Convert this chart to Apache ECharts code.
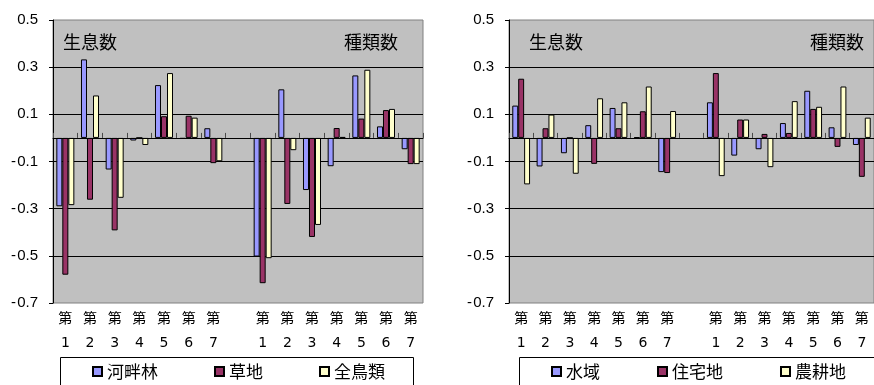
<!DOCTYPE html>
<html>
<head>
<meta charset="utf-8">
<script src="https://cdn.jsdelivr.net/npm/echarts@6.0.0/dist/echarts.min.js"></script>
<style>
html,body{margin:0;padding:0;background:#fff;}
#main{width:874px;height:385px;}
</style>
</head>
<body>
<div id="main"></div>
<script>
// Categories (empty slot separates the two groups)
var categories = ['第1','第2','第3','第4','第5','第6','第7','','第1','第2','第3','第4','第5','第6','第7'];
var yTicks = [-0.7, -0.5, -0.3, -0.1, 0.1, 0.3, 0.5];

// Left panel
var riparian    = [-0.29, 0.333, -0.134, -0.011, 0.224, -0.004, 0.041, null, -0.503, 0.206, -0.221, -0.12, 0.265, 0.049, -0.048];
var grassland   = [-0.58, -0.262, -0.392, 0, 0.092, 0.094, -0.107, null, -0.616, -0.28, -0.42, 0.042, 0.082, 0.118, -0.111];
var allBirds    = [-0.285, 0.18, -0.254, -0.03, 0.275, 0.086, -0.099, null, -0.51, -0.052, -0.369, 0.004, 0.289, 0.123, -0.111];

// Right panel
var water       = [0.137, -0.121, -0.065, 0.054, 0.127, 0.003, -0.145, null, 0.151, -0.075, -0.048, 0.063, 0.2, 0.045, -0.03];
var residential = [0.251, 0.041, 0, -0.11, 0.041, 0.113, -0.149, null, 0.275, 0.078, 0.017, 0.021, 0.123, -0.038, -0.165];
var farmland    = [-0.197, 0.099, -0.152, 0.168, 0.151, 0.218, 0.114, null, -0.162, 0.078, -0.124, 0.156, 0.132, 0.218, 0.086];

var leftNames = ['河畔林', '草地', '全鳥類'];
var rightNames = ['水域', '住宅地', '農耕地'];
var panelLabels = ['生息数', '種類数'];

var colors = ['#9999FF', '#993366', '#FFFFCC'];
var latin = '"Liberation Sans", Arial, sans-serif';
var cjk = '"Noto Sans CJK JP", sans-serif';

function yAxisDef(gi) {
  return {
    type: 'value', gridIndex: gi, min: -0.7, max: 0.5,
    axisLine: { show: true, lineStyle: { color: '#000', width: 1 } },
    axisTick: { show: true, length: 4, lineStyle: { color: '#000' }, customValues: yTicks },
    axisLabel: {
      customValues: yTicks, margin: 15, color: '#000', fontSize: 15, fontFamily: latin,
      formatter: function (v) { return v < 0 ? '-\u200A' + Math.abs(v).toFixed(1) : v.toFixed(1); }
    },
    splitLine: { show: true, showMinLine: false, showMaxLine: false, lineStyle: { color: '#000', width: 1 } }
  };
}
// label axis: part 0 = "第", part 1 = the number
function xLabelAxis(gi, part, margin, family) {
  return {
    type: 'category', gridIndex: gi, data: categories, position: 'bottom',
    axisLine: { show: false, onZero: false },
    axisTick: { show: false },
    axisLabel: {
      interval: 0, margin: margin, color: '#000', fontSize: 14, fontFamily: family,
      formatter: function (v) { return v ? (part === 0 ? v.charAt(0) : v.slice(1)) : ''; }
    },
    splitLine: { show: false }
  };
}
function xZeroAxis(gi) {
  return {
    type: 'category', gridIndex: gi, data: categories, position: 'bottom',
    axisLine: { show: true, onZero: true, lineStyle: { color: '#000', width: 1 } },
    axisTick: { show: true, inside: true, length: 5, interval: 0, lineStyle: { color: '#4a4a4a', width: 1 } },
    axisLabel: { show: false },
    splitLine: { show: false },
    z: 5
  };
}
function barSeries(name, data, xi, yi, color) {
  return {
    type: 'bar', name: name, data: data, xAxisIndex: xi, yAxisIndex: yi,
    barGap: '0%', barCategoryGap: '27%',
    itemStyle: { color: color, borderColor: '#000', borderWidth: 1 },
    emphasis: { disabled: true }, animation: false
  };
}

var option = {
  animation: false,
  grid: [
    { left: 53, top: 20, width: 370, height: 283, show: true, backgroundColor: '#C0C0C0', borderColor: '#808080', borderWidth: 1 },
    { left: 509, top: 20, width: 370, height: 283, show: true, backgroundColor: '#C0C0C0', borderColor: '#808080', borderWidth: 1 }
  ],
  xAxis: [
    xLabelAxis(0, 0, 8, cjk), xZeroAxis(0), xLabelAxis(0, 1, 33, '"DejaVu Sans", sans-serif'),
    xLabelAxis(1, 0, 8, cjk), xZeroAxis(1), xLabelAxis(1, 1, 33, '"DejaVu Sans", sans-serif')
  ],
  yAxis: [yAxisDef(0), yAxisDef(1)],
  legend: [
    { data: leftNames, left: 92, top: 363, padding: 0, itemWidth: 9, itemHeight: 9, itemGap: 56, icon: 'rect',
      textStyle: { fontSize: 17, fontFamily: cjk, color: '#000' }, selectedMode: false },
    { data: rightNames, left: 551, top: 363, padding: 0, itemWidth: 9, itemHeight: 9, itemGap: 57, icon: 'rect',
      textStyle: { fontSize: 17, fontFamily: cjk, color: '#000' }, selectedMode: false }
  ],
  graphic: [
    { type: 'rect', shape: { x: 60.5, y: 357.5, width: 353, height: 40 }, style: { fill: 'none', stroke: '#000', lineWidth: 1 }, silent: true },
    { type: 'rect', shape: { x: 519.5, y: 357.5, width: 400, height: 40 }, style: { fill: 'none', stroke: '#000', lineWidth: 1 }, silent: true },
    { type: 'text', left: 63, top: 33, style: { text: panelLabels[0], font: '18px "Noto Sans CJK JP"', fill: '#000' }, z: 10 },
    { type: 'text', left: 344, top: 33, style: { text: panelLabels[1], font: '18px "Noto Sans CJK JP"', fill: '#000' }, z: 10 },
    { type: 'text', left: 529, top: 33, style: { text: panelLabels[0], font: '18px "Noto Sans CJK JP"', fill: '#000' }, z: 10 },
    { type: 'text', left: 810, top: 33, style: { text: panelLabels[1], font: '18px "Noto Sans CJK JP"', fill: '#000' }, z: 10 }
  ],
  series: [
    barSeries(leftNames[0], riparian, 0, 0, colors[0]),
    barSeries(leftNames[1], grassland, 0, 0, colors[1]),
    barSeries(leftNames[2], allBirds, 0, 0, colors[2]),
    barSeries(rightNames[0], water, 3, 1, colors[0]),
    barSeries(rightNames[1], residential, 3, 1, colors[1]),
    barSeries(rightNames[2], farmland, 3, 1, colors[2])
  ]
};

var chart = echarts.init(document.getElementById('main'), null, { renderer: 'canvas' });
chart.setOption(option);
</script>
</body>
</html>
